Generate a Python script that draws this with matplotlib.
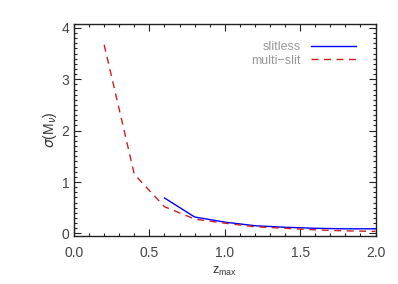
import matplotlib
matplotlib.use("Agg")
import matplotlib.pyplot as plt
from matplotlib.ticker import MultipleLocator, FormatStrFormatter

z_multi = [0.2, 0.4, 0.6, 0.8, 1.0, 1.2, 1.4, 1.6, 1.8, 2.0]
sig_multi = [3.67, 1.15, 0.52, 0.28, 0.20, 0.13, 0.10, 0.07, 0.05, 0.04]
z_slitless = [0.6, 0.8, 1.0, 1.2, 1.4, 1.6, 1.8, 2.0]
sig_slitless = [0.69, 0.32, 0.22, 0.15, 0.12, 0.10, 0.09, 0.09]

plt.rcParams['font.family'] = ['Liberation Sans', 'DejaVu Sans']
fig = plt.figure(figsize=(3.98, 2.84), dpi=100)
ax = fig.add_axes([0.186, 0.169, 0.7575, 0.7475])

ax.plot(z_slitless, sig_slitless, color='#0000ff', lw=1.0, label='slitless')
ax.plot(z_multi, sig_multi, color='#cc1f1f', lw=1.0, dashes=(5, 4), label='multi\u2212slit')

ax.set_xlim(0, 2.0)
ax.set_ylim(-0.05, 4.08)
ax.xaxis.set_major_locator(MultipleLocator(0.5))
ax.xaxis.set_minor_locator(MultipleLocator(0.1))
ax.yaxis.set_major_locator(MultipleLocator(1))
ax.yaxis.set_minor_locator(MultipleLocator(0.1))
ax.xaxis.set_major_formatter(FormatStrFormatter('%.1f'))
ax.tick_params(which='both', direction='in', top=True, right=True, colors='#222222',
               labelcolor='#444444', labelsize=10, width=0.8)
ax.tick_params(which='major', length=5)
ax.tick_params(which='minor', length=2.5)
ax.tick_params(axis='x', pad=7)
for s in ax.spines.values():
    s.set_linewidth(1.0)
    s.set_color('#222222')

ax.set_xlabel(r'$\mathregular{z_{max}}$', color='#333333', fontsize=9)
ax.set_ylabel(r'$\sigma$(M$_\nu$)', color='#333333', fontsize=10, labelpad=2)

leg = ax.legend(loc='upper right', frameon=False, markerfirst=False, fontsize=9,
                handlelength=3.6, labelspacing=0.1, borderaxespad=0.5,
                bbox_to_anchor=(0.973, 0.97))
for t in leg.get_texts():
    t.set_color('#999999')
    t.set_ha('right')

fig.savefig('out.png', dpi=100)
